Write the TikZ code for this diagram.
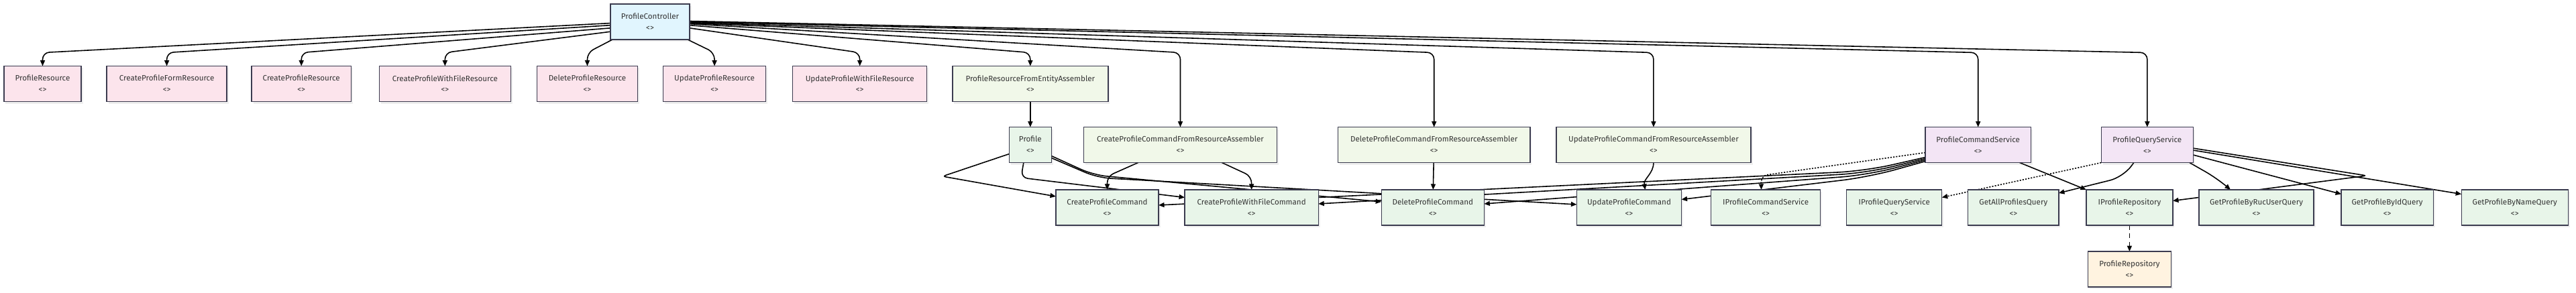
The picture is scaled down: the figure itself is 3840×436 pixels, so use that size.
\documentclass[tikz,border=0pt]{standalone}
\usepackage{fontspec}
\setmainfont{Fira Sans}
\usepackage{tikz}
\usetikzlibrary{arrows.meta, positioning, backgrounds, shadows}
\definecolor{ctrlBlue}{HTML}{E1F5FE}
\definecolor{resPink}{HTML}{FCE4EC}
\definecolor{asmGreen}{HTML}{F1F8E9}
\definecolor{domGreen}{HTML}{E8F5E9}
\definecolor{svcPurple}{HTML}{F3E5F5}
\definecolor{repoOrange}{HTML}{FFF3E0}
\definecolor{boxBorder}{HTML}{3B3B4F}
\definecolor{textDark}{HTML}{333333}

\begin{document}
\begin{tikzpicture}[
    x=0.01cm, y=-0.01cm,
    box/.style={rectangle, draw=boxBorder, line width=0.4pt, minimum height=0.53cm,
                inner xsep=0pt, inner ysep=0pt, outer sep=0pt, align=center, text=textDark,
                font=\fontsize{3.3pt}{4.8pt}\selectfont,
                drop shadow={shadow xshift=0.025cm, shadow yshift=-0.03cm, opacity=0.12}},
    arrow/.style={-{Triangle[length=0.085cm, width=0.07cm]}, line width=0.45pt, color=black},
    dotted_arrow/.style={arrow, dash pattern=on 0.6pt off 0.6pt},
    dashed_arrow/.style={arrow, dash pattern=on 2pt off 1.5pt}
]
\useasboundingbox (0,0) rectangle (3840,436);
\coordinate (bendline) at (0,78.5);

% Controller
\node[box, fill=ctrlBlue, minimum width=1.18cm] (ctrl) at (969,32.5) {ProfileController\\<>};

% Resources
\node[box, fill=resPink, minimum width=1.15cm] (resProfile) at (63.5,125) {ProfileResource\\<>};
\node[box, fill=resPink, minimum width=1.79cm, right=0.38cm of resProfile] (resCreateForm) {CreateProfileFormResource\\<>};
\node[box, fill=resPink, minimum width=1.48cm, right=0.37cm of resCreateForm] (resCreate) {CreateProfileResource\\<>};
\node[box, fill=resPink, minimum width=1.96cm, right=0.42cm of resCreate] (resCreateFile) {CreateProfileWithFileResource\\<>};
\node[box, fill=resPink, minimum width=1.50cm, right=0.39cm of resCreateFile] (resDelete) {DeleteProfileResource\\<>};
\node[box, fill=resPink, minimum width=1.53cm, right=0.38cm of resDelete] (resUpdate) {UpdateProfileResource\\<>};
\node[box, fill=resPink, minimum width=2.00cm, right=0.40cm of resUpdate] (resUpdateFile) {UpdateProfileWithFileResource\\<>};
\node[box, fill=asmGreen, minimum width=2.32cm, right=0.38cm of resUpdateFile] (asmEntity) {ProfileResourceFromEntityAssembler\\<>};

% Entity, command assemblers and services
\node[box, fill=domGreen, minimum width=0.63cm, below=0.38cm of asmEntity] (profile) {Profile\\<>};
\node[box, fill=asmGreen, minimum width=2.88cm, right=0.48cm of profile] (asmCreate) {CreateProfileCommandFromResourceAssembler\\<>};
\node[box, fill=asmGreen, minimum width=2.86cm, right=0.91cm of asmCreate] (asmDelete) {DeleteProfileCommandFromResourceAssembler\\<>};
\node[box, fill=asmGreen, minimum width=2.90cm, right=0.39cm of asmDelete] (asmUpdate) {UpdateProfileCommandFromResourceAssembler\\<>};
\node[box, fill=svcPurple, minimum width=1.57cm, right=2.60cm of asmUpdate] (svcCommand) {ProfileCommandService\\<>};
\node[box, fill=svcPurple, minimum width=1.37cm, right=1.05cm of svcCommand] (svcQuery) {ProfileQueryService\\<>};

% Commands, queries and interfaces
\node[box, fill=domGreen, minimum width=1.53cm] (cmdCreate) at (1650.5,309.5) {CreateProfileCommand\\<>};
\node[box, fill=domGreen, minimum width=1.99cm, right=0.39cm of cmdCreate] (cmdCreateFile) {CreateProfileWithFileCommand\\<>};
\node[box, fill=domGreen, minimum width=1.53cm, right=0.94cm of cmdCreateFile] (cmdDelete) {DeleteProfileCommand\\<>};
\node[box, fill=domGreen, minimum width=1.56cm, right=1.38cm of cmdDelete] (cmdUpdate) {UpdateProfileCommand\\<>};
\node[box, fill=domGreen, minimum width=1.63cm, right=0.44cm of cmdUpdate] (iCommand) {IProfileCommandService\\<>};
\node[box, fill=domGreen, minimum width=1.42cm, right=0.39cm of iCommand] (iQuery) {IProfileQueryService\\<>};
\node[box, fill=domGreen, minimum width=1.35cm, right=0.39cm of iQuery] (qAll) {GetAllProfilesQuery\\<>};
\node[box, fill=domGreen, minimum width=1.29cm, right=0.41cm of qAll] (iRepo) {IProfileRepository\\<>};
\node[box, fill=domGreen, minimum width=1.71cm, right=0.39cm of iRepo] (qRuc) {GetProfileByRucUserQuery\\<>};
\node[box, fill=domGreen, minimum width=1.37cm, right=0.41cm of qRuc] (qId) {GetProfileByIdQuery\\<>};
\node[box, fill=domGreen, minimum width=1.59cm, right=0.42cm of qId] (qName) {GetProfileByNameQuery\\<>};

% Repository
\node[box, fill=repoOrange, minimum width=1.24cm, below=0.39cm of iRepo] (repo) {ProfileRepository\\<>};

\begin{scope}[on background layer]
\fill[white] (0,0) rectangle (3840,436);

% Controller dependencies
\foreach \target/\ang in {resProfile/182, resCreateForm/185, resCreate/189, resCreateFile/194, resUpdateFile/351, asmEntity/355}
  \draw[arrow, rounded corners=0.1cm] (ctrl.\ang) -- (\target.north |- bendline) -- (\target.north);
\draw[arrow, rounded corners=0.1cm] ([xshift=0.03cm]ctrl.south west) -- (resDelete.north |- bendline) -- (resDelete.north);
\draw[arrow, rounded corners=0.1cm] ([xshift=-0.03cm]ctrl.south east) -- (resUpdate.north |- bendline) -- (resUpdate.north);
\foreach \target/\ang in {asmCreate/357, asmDelete/358, asmUpdate/359, svcCommand/0, svcQuery/1}
  \draw[arrow, rounded corners=0.1cm] (ctrl.\ang) -- (\target.north |- bendline) -- (\target.north);

% Assemblers
\draw[arrow] (asmEntity) -- (profile);
\draw[arrow, rounded corners=0.1cm] ([xshift=-0.63cm]asmCreate.south) -- ([yshift=0.2cm]cmdCreate.north) -- (cmdCreate.north);
\draw[arrow, rounded corners=0.1cm] ([xshift=0.62cm]asmCreate.south) -- ([yshift=0.2cm]cmdCreateFile.north) -- (cmdCreateFile.north);
\draw[arrow] (asmDelete) -- (cmdDelete);
\draw[arrow] (asmUpdate.south) to[out=-90, in=100] ([xshift=0.24cm]cmdUpdate.north);

% Profile uses commands
\draw[arrow, rounded corners=0.05cm] ([yshift=0.13cm]profile.south west) -- (1405,263) -- ([yshift=0.165cm]cmdCreate.west);
\draw[arrow, rounded corners=0.1cm] ([xshift=-0.1cm]profile.south) -- (1522,265) -- ([yshift=0.15cm]cmdCreateFile.west);
\draw[arrow, rounded corners=0.2cm] ([yshift=-0.165cm]profile.east) -- (1630,261) -- ([yshift=0.085cm]cmdDelete.west);
\draw[arrow, rounded corners=0.2cm] ([yshift=-0.195cm]profile.east) -- (1636,265) -- ([yshift=0.045cm]cmdUpdate.west);

% Command service
\draw[arrow, rounded corners=0.4cm] ([yshift=0.08cm]svcCommand.south west) -- (2780,255) -- ([yshift=0.035cm]cmdCreate.east);
\draw[arrow, rounded corners=0.4cm] ([yshift=0.06cm]svcCommand.south west) -- (2782,258) -- ([yshift=0.055cm]cmdCreateFile.east);
\draw[arrow, rounded corners=0.4cm] ([yshift=0.04cm]svcCommand.south west) -- (2784,261) -- ([yshift=0.055cm]cmdDelete.east);
\draw[arrow, rounded corners=0.4cm] ([yshift=0.02cm]svcCommand.south west) -- (2786,264) -- ([yshift=0.12cm]cmdUpdate.east);
\draw[dotted_arrow, rounded corners=0.1cm] ([yshift=-0.115cm]svcCommand.west) -- (2625,262) -- ([xshift=-0.065cm]iCommand.north);
\draw[arrow] ([xshift=0.62cm]svcCommand.south) -- (iRepo.north west);

% Query service
\draw[dotted_arrow] (svcQuery.south west) -- ([yshift=0.15cm]iQuery.east);
\draw[arrow, rounded corners=0.2cm] ([xshift=-0.2cm]svcQuery.south) -- (3165,264) -- ([yshift=-0.05cm]qAll.north east);
\draw[arrow, rounded corners=0.2cm] ([xshift=0.63cm]svcQuery.south) -- (3305,266) -- ([xshift=-0.385cm]qRuc.north);
\draw[arrow] ([yshift=-0.15cm]svcQuery.east) -- ([yshift=0.2cm]qId.west);
\draw[arrow] ([yshift=-0.08cm]svcQuery.east) -- ([yshift=0.2cm]qName.west);
\draw[arrow, rounded corners=0.05cm] ([yshift=-0.05cm]svcQuery.east) -- (3528,262) -- ([yshift=0.1cm]iRepo.east);

% Repository implementation
\draw[dashed_arrow] (iRepo) -- (repo);
\end{scope}

\end{tikzpicture}
\end{document}
